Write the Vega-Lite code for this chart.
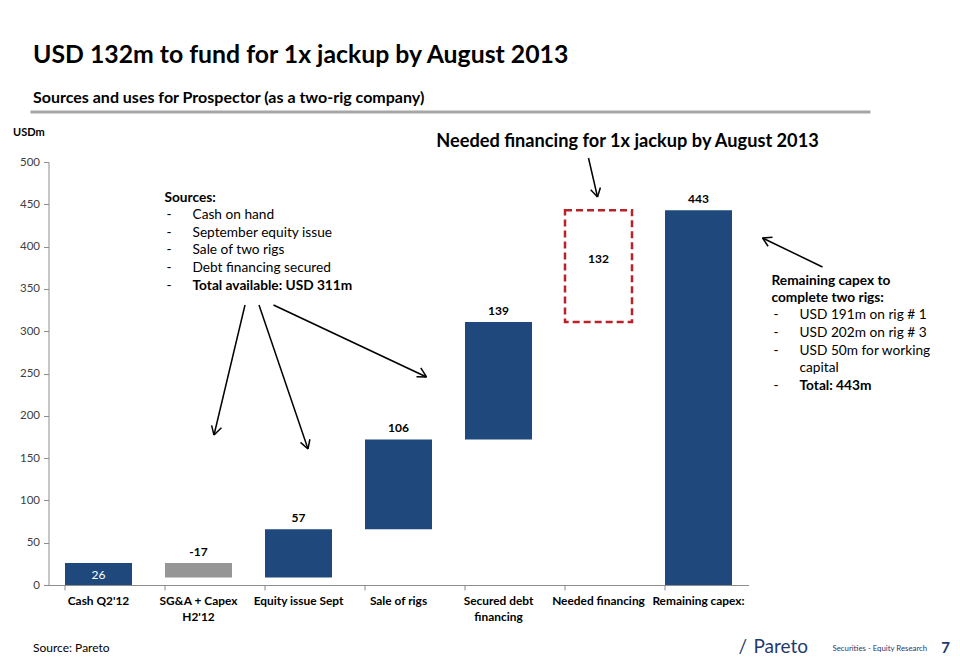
{
  "$schema": "https://vega.github.io/schema/vega-lite/v6.json",
  "width": 700,
  "height": 423,
  "autosize": {"type": "none"},
  "padding": {"left": 48.5, "top": 162, "right": 211.5, "bottom": 72},
  "background": "white",
  "config": {"font": "Lato", "view": {"stroke": null}},
  "title": {
    "text": "USD 132m to fund for 1x jackup by August 2013",
    "subtitle": "Sources and uses for Prospector (as a two-rig company)",
    "anchor": "start",
    "frame": "group",
    "dx": -15.5,
    "offset": 5,
    "fontSize": 24.8,
    "fontWeight": "bold",
    "color": "#000000",
    "subtitleFontSize": 16,
    "subtitleFontWeight": "bold",
    "subtitleColor": "#000000",
    "subtitlePadding": 22
  },
  "layer": [
    {
      "data": {
        "values": [
          {"cat": "Cash Q2'12", "lo": 0, "hi": 26, "value": "26", "kind": "cash"},
          {"cat": "SG&A + Capex|H2'12", "lo": 9, "hi": 26, "value": "-17", "kind": "neg"},
          {"cat": "Equity issue Sept", "lo": 9, "hi": 66, "value": "57", "kind": "pos"},
          {"cat": "Sale of rigs", "lo": 66, "hi": 172, "value": "106", "kind": "pos"},
          {"cat": "Secured debt|financing", "lo": 172, "hi": 311, "value": "139", "kind": "pos"},
          {"cat": "Needed financing", "lo": 311, "hi": 443, "value": "132", "kind": "gap"},
          {"cat": "Remaining capex:", "lo": 0, "hi": 443, "value": "443", "kind": "total"}
        ]
      },
      "encoding": {
        "x": {
          "field": "cat",
          "type": "nominal",
          "sort": null,
          "scale": {
            "domain": ["Cash Q2'12", "SG&A + Capex|H2'12", "Equity issue Sept", "Sale of rigs", "Secured debt|financing", "Needed financing", "Remaining capex:"],
            "paddingInner": 0.33,
            "paddingOuter": 0.165
          },
          "axis": {
            "title": null,
            "labelExpr": "split(datum.label, '|')",
            "labelAngle": 0,
            "labelFontSize": 11.9,
            "labelFontWeight": "bold",
            "labelColor": "#000000",
            "labelLineHeight": 16,
            "labelPadding": 5,
            "labelBaseline": "top",
            "bandPosition": 0,
            "tickSize": 5,
            "tickColor": "#8c8c8c",
            "domainColor": "#8c8c8c",
            "labelLimit": 200
          }
        },
        "y": {
          "field": "lo",
          "type": "quantitative",
          "scale": {"domain": [0, 500], "nice": false},
          "axis": {
            "title": "USDm",
            "titleAngle": 0,
            "titleAlign": "left",
            "titleBaseline": "middle",
            "titleX": -36,
            "titleY": -30,
            "titleFontSize": 11,
            "titleFontWeight": "bold",
            "titleColor": "#000000",
            "values": [0, 50, 100, 150, 200, 250, 300, 350, 400, 450, 500],
            "grid": false,
            "tickSize": 5,
            "tickColor": "#8c8c8c",
            "domainColor": "#8c8c8c",
            "labelFontSize": 11.5,
            "labelColor": "#404040",
            "labelPadding": 4
          }
        }
      },
      "layer": [
        {
          "transform": [{"filter": "datum.kind != 'gap'"}],
          "mark": {"type": "bar", "clip": false},
          "encoding": {
            "y2": {"field": "hi"},
            "color": {
              "field": "kind",
              "type": "nominal",
              "scale": {"domain": ["cash", "neg", "pos", "total"], "range": ["#1F497D", "#969696", "#1F497D", "#1F497D"]},
              "legend": null
            }
          }
        },
        {
          "transform": [{"filter": "datum.kind == 'gap'"}],
          "mark": {"type": "bar", "fill": null, "fillOpacity": 0, "stroke": "#B8232A", "strokeWidth": 2.5, "strokeDash": [7, 4]},
          "encoding": {"y2": {"field": "hi"}}
        },
        {
          "transform": [{"filter": "datum.kind != 'gap' && datum.kind != 'cash'"}],
          "mark": {"type": "text", "fontSize": 12, "fontWeight": "bold", "color": "#000000", "baseline": "middle", "dy": -11},
          "encoding": {"y": {"field": "hi", "type": "quantitative"}, "text": {"field": "value"}}
        },
        {
          "transform": [{"filter": "datum.kind == 'gap'"}],
          "mark": {"type": "text", "fontSize": 12, "fontWeight": "bold", "color": "#000000", "baseline": "middle", "dy": 49},
          "encoding": {"y": {"field": "hi", "type": "quantitative"}, "text": {"field": "value"}}
        },
        {
          "transform": [{"filter": "datum.kind == 'cash'"}],
          "mark": {"type": "text", "fontSize": 12, "color": "#ffffff", "baseline": "middle", "dy": 12},
          "encoding": {"y": {"field": "hi", "type": "quantitative"}, "text": {"field": "value"}}
        }
      ]
    },
    {
      "layer": [
        {
          "data": {
            "values": [
              {"x": 1.965, "y": 331.0, "x2": 1.655, "y2": 177.3},
              {"x": 1.655, "y": 177.3, "x2": 1.729, "y2": 185.9},
              {"x": 1.655, "y": 177.3, "x2": 1.631, "y2": 188.7},
              {"x": 2.105, "y": 331.0, "x2": 2.595, "y2": 160.8},
              {"x": 2.595, "y": 160.8, "x2": 2.614, "y2": 172.3},
              {"x": 2.595, "y": 160.8, "x2": 2.52, "y2": 168.6},
              {"x": 2.25, "y": 331.0, "x2": 3.78, "y2": 245.9},
              {"x": 3.78, "y": 245.9, "x2": 3.723, "y2": 256.7},
              {"x": 3.78, "y": 245.9, "x2": 3.68, "y2": 246.1},
              {"x": 5.40, "y": 504.7, "x2": 5.49, "y2": 458.6},
              {"x": 5.49, "y": 458.6, "x2": 5.519, "y2": 469.9},
              {"x": 5.49, "y": 458.6, "x2": 5.422, "y2": 467.3},
              {"x": 7.74, "y": 375.9, "x2": 7.14, "y2": 410.2},
              {"x": 7.14, "y": 410.2, "x2": 7.196, "y2": 400.4},
              {"x": 7.14, "y": 410.2, "x2": 7.24, "y2": 411.0}
            ]
          },
          "mark": {"type": "rule", "color": "#000000", "strokeWidth": 1.5, "clip": false},
          "encoding": {
            "x": {"field": "x", "type": "quantitative", "scale": {"domain": [0, 7], "nice": false, "zero": false}, "axis": null},
            "y": {"field": "y", "type": "quantitative"},
            "x2": {"field": "x2"},
            "y2": {"field": "y2"}
          }
        },
        {
          "data": {"values": [{"x": -0.18, "x2": 8.22, "y": 559.1}]},
          "mark": {"type": "rule", "color": "#a6a6a6", "strokeWidth": 3, "clip": false},
          "encoding": {
            "x": {"field": "x", "type": "quantitative", "axis": null},
            "x2": {"field": "x2"},
            "y": {"field": "y", "type": "quantitative"}
          }
        },
        {
          "data": {
            "values": [
              {"x": 1.18, "y": 437.4, "t": "-"},
              {"x": 1.44, "y": 437.4, "t": "Cash on hand"},
              {"x": 1.18, "y": 416.1, "t": "-"},
              {"x": 1.44, "y": 416.1, "t": "September equity issue"},
              {"x": 1.18, "y": 396.0, "t": "-"},
              {"x": 1.44, "y": 396.0, "t": "Sale of two rigs"},
              {"x": 1.18, "y": 374.7, "t": "-"},
              {"x": 1.44, "y": 374.7, "t": "Debt financing secured"},
              {"x": 1.18, "y": 353.4, "t": "-"},
              {"x": 7.25, "y": 319.1, "t": "-"},
              {"x": 7.51, "y": 319.1, "t": "USD 191m on rig # 1"},
              {"x": 7.25, "y": 297.9, "t": "-"},
              {"x": 7.51, "y": 297.9, "t": "USD 202m on rig # 3"},
              {"x": 7.25, "y": 276.6, "t": "-"},
              {"x": 7.51, "y": 276.6, "t": "USD 50m for working"},
              {"x": 7.51, "y": 256.5, "t": "capital"},
              {"x": 7.25, "y": 235.2, "t": "-"}
            ]
          },
          "mark": {"type": "text", "align": "left", "baseline": "middle", "fontSize": 13.7, "color": "#000000"},
          "encoding": {
            "x": {"field": "x", "type": "quantitative", "axis": null},
            "y": {"field": "y", "type": "quantitative"},
            "text": {"field": "t"}
          }
        },
        {
          "data": {
            "values": [
              {"x": 1.16, "y": 457.4, "t": "Sources:"},
              {"x": 1.44, "y": 353.4, "t": "Total available: USD 311m"},
              {"x": 7.23, "y": 359.3, "t": "Remaining capex to"},
              {"x": 7.23, "y": 339.2, "t": "complete two rigs:"},
              {"x": 7.51, "y": 235.2, "t": "Total: 443m"}
            ]
          },
          "mark": {"type": "text", "align": "left", "baseline": "middle", "fontSize": 13.7, "fontWeight": "bold", "color": "#000000"},
          "encoding": {
            "x": {"field": "x", "type": "quantitative", "axis": null},
            "y": {"field": "y", "type": "quantitative"},
            "text": {"field": "t"}
          }
        },
        {
          "data": {"values": [{"x": 5.79, "y": 523.6, "t": "Needed financing for 1x jackup by August 2013"}]},
          "mark": {"type": "text", "align": "center", "baseline": "middle", "fontSize": 18.2, "fontWeight": "bold", "color": "#000000"},
          "encoding": {
            "x": {"field": "x", "type": "quantitative", "axis": null},
            "y": {"field": "y", "type": "quantitative"},
            "text": {"field": "t"}
          }
        },
        {
          "data": {"values": [{"x": -0.155, "y": -74.5, "t": "Source: Pareto"}]},
          "mark": {"type": "text", "align": "left", "baseline": "middle", "fontSize": 12, "color": "#000000"},
          "encoding": {
            "x": {"field": "x", "type": "quantitative", "axis": null},
            "y": {"field": "y", "type": "quantitative"},
            "text": {"field": "t"}
          }
        },
        {
          "data": {"values": [{"x": 6.9, "y": -73.5, "t": "/"}, {"x": 7.05, "y": -73.5, "t": "Pareto"}]},
          "mark": {"type": "text", "align": "left", "baseline": "middle", "fontSize": 19, "color": "#1F3A6E"},
          "encoding": {
            "x": {"field": "x", "type": "quantitative", "axis": null},
            "y": {"field": "y", "type": "quantitative"},
            "text": {"field": "t"}
          }
        },
        {
          "data": {"values": [{"x": 7.84, "y": -75.5, "t": "Securities - Equity Research"}]},
          "mark": {"type": "text", "align": "left", "baseline": "middle", "fontSize": 7.8, "color": "#1F3A6E"},
          "encoding": {
            "x": {"field": "x", "type": "quantitative", "axis": null},
            "y": {"field": "y", "type": "quantitative"},
            "text": {"field": "t"}
          }
        },
        {
          "data": {"values": [{"x": 8.97, "y": -74.5, "t": "7"}]},
          "mark": {"type": "text", "align": "center", "baseline": "middle", "fontSize": 15, "fontWeight": "bold", "color": "#1F3A6E"},
          "encoding": {
            "x": {"field": "x", "type": "quantitative", "axis": null},
            "y": {"field": "y", "type": "quantitative"},
            "text": {"field": "t"}
          }
        }
      ]
    }
  ],
  "resolve": {"scale": {"x": "independent"}}
}
